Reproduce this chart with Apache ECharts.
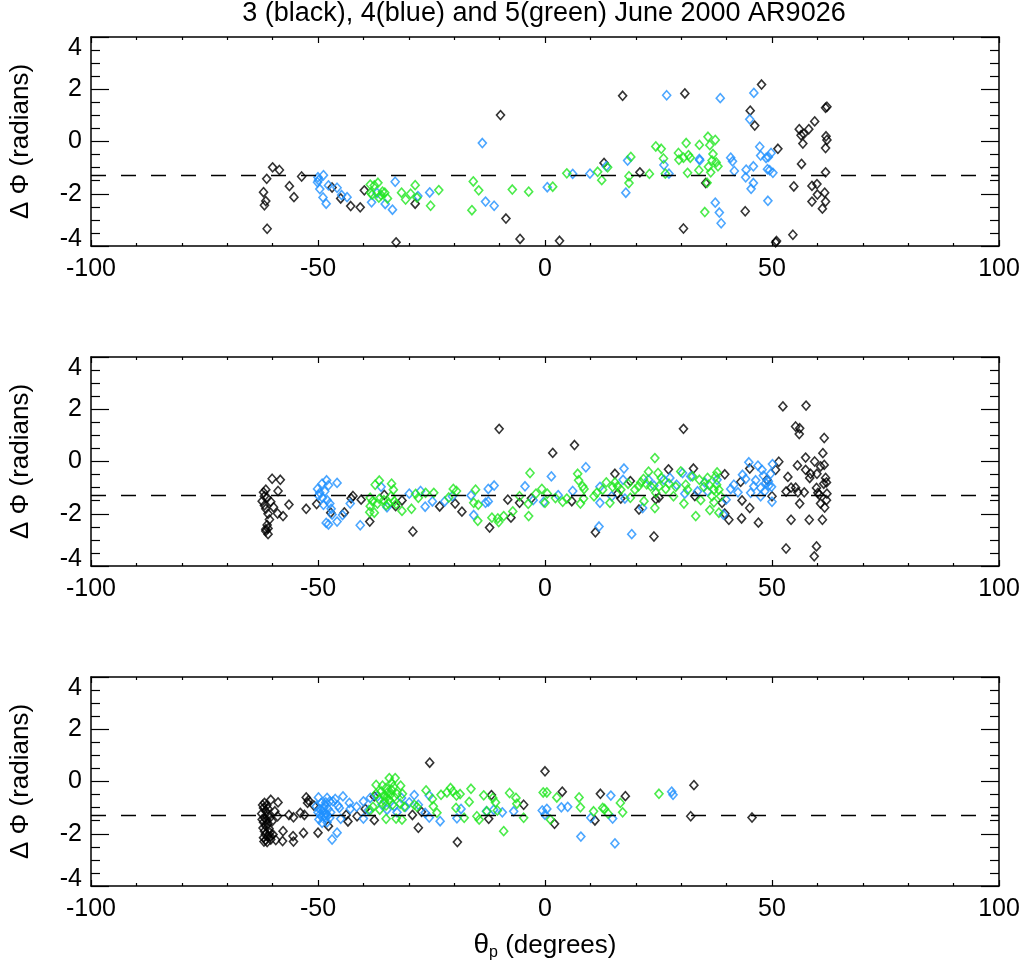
<!DOCTYPE html>
<html>
<head>
<meta charset="utf-8">
<title>AR9026 phase differences</title>
<script src="https://cdn.jsdelivr.net/npm/echarts@6/dist/echarts.min.js"></script>
<style>
  html, body { margin: 0; padding: 0; background: #ffffff; }
  #chart { width: 1032px; height: 974px; }
</style>
</head>
<body>
<div id="chart"></div>
<script>
// ---- text ----
const titleText = '3 (black), 4(blue) and 5(green) June 2000 AR9026';
const yAxisTitle = 'Δ Φ (radians)';
const xAxisTitle = '{th|θ}{sub|p}{rest| (degrees)}';

// ---- axes ----
const xRange = [-100, 100];
const xStep = 50;
const yRange = [-4, 4];
const yStep = 2;
const refLevel = -1.3;   // dashed reference level

// ---- panel 1 : [theta_p, delta phi] ----
const p1Black = [
  [-61.3,-1.43],[-60.0,-0.99],[-58.5,-1.09],[-62.0,-1.94],[-61.5,-2.28],[-61.8,-2.44],[-61.2,-3.34],
  [-56.3,-1.71],[-55.3,-2.13],[-53.6,-1.34],[-46.9,-1.76],[-45.0,-2.18],[-42.8,-2.47],[-40.7,-2.52],
  [-39.8,-1.87],[-28.6,-2.38],[-32.8,-3.86],[-9.8,1.01],[-8.6,-2.95],[-5.5,-3.73],[3.2,-3.80],
  [17.1,1.75],[13.0,-0.82],[20.9,-1.18],[30.8,1.84],[30.5,-3.33],[35.4,-1.59],[44.1,-2.67],
  [45.2,1.18],[46.2,0.61],[47.7,2.18],[51.3,-0.28],[51.0,-3.81],[50.8,-3.86],[54.6,-3.57],
  [54.8,-1.72],[56.5,-0.86],[56.0,0.47],[56.4,0.24],[57.0,0.29],[56.8,-0.08],[58.1,0.47],
  [59.4,0.77],[58.8,-2.30],[58.8,-1.70],[59.9,-1.63],[60.0,-2.03],[61.1,-2.57],[61.6,-1.96],
  [61.8,-2.30],[61.8,-0.25],[61.9,0.20],[62.1,0.06],[61.8,1.29],[62.1,1.33],[61.8,-1.18]
];
const p1Blue = [
  [-48.8,-1.29],[-50.0,-1.37],[-49.9,-1.48],[-50.1,-1.56],[-49.6,-1.82],[-48.9,-2.14],[-48.2,-2.38],
  [-47.7,-1.68],[-45.8,-1.77],[-44.8,-2.05],[-43.6,-2.13],[-38.2,-2.33],[-37.0,-1.97],[-35.2,-2.39],
  [-33.6,-2.61],[-33.0,-1.54],[-28.0,-2.09],[-25.4,-1.95],[-13.8,-0.06],[-13.1,-2.30],[-11.2,-2.46],
  [0.5,-1.75],[6.1,-1.24],[9.9,-1.23],[13.5,-0.95],[18.2,-0.73],[17.8,-1.96],[26.8,1.77],
  [26.2,-0.90],[27.3,-1.23],[34.0,-0.67],[34.1,-0.72],[37.5,-2.34],[38.4,-2.72],[38.8,-3.13],
  [38.6,1.66],[40.9,-0.62],[41.3,-0.76],[41.7,-1.13],[44.3,-1.08],[44.2,-1.37],[45.9,-0.95],
  [45.9,-1.59],[45.4,-1.81],[45.1,0.85],[46.0,1.86],[47.3,-0.20],[47.5,-0.54],[48.7,-0.63],
  [49.2,-0.59],[49.8,-0.44],[49.0,-1.06],[49.5,-1.10],[50.2,-1.20],[49.1,-2.27]
];
const p1Green = [
  [-38.5,-1.65],[-37.6,-1.68],[-36.8,-1.58],[-38.4,-1.96],[-38.1,-2.03],[-36.6,-2.15],[-36.1,-2.05],
  [-35.8,-1.92],[-35.3,-1.96],[-34.7,-2.18],[-31.6,-1.96],[-30.7,-2.22],[-29.6,-2.00],[-28.6,-1.67],
  [-28.2,-2.15],[-25.2,-2.46],[-23.4,-1.86],[-16.1,-2.63],[-15.8,-1.53],[-14.6,-1.87],[-7.2,-1.84],
  [-3.6,-1.92],[1.7,-1.73],[4.8,-1.22],[11.6,-1.16],[12.5,-1.48],[13.8,-0.99],[18.9,-0.59],
  [18.5,-1.33],[18.5,-1.59],[23.0,-1.24],[24.4,-0.19],[25.6,-0.28],[26.1,-0.65],[26.5,-1.23],
  [29.4,-0.44],[29.5,-0.70],[30.5,-0.62],[31.1,-0.06],[31.6,-0.52],[32.0,-0.62],[31.4,-1.20],
  [34.0,-0.13],[33.9,-1.10],[35.9,0.18],[36.3,-0.14],[37.5,0.06],[37.0,-0.48],[36.8,-0.73],
  [37.7,-0.80],[38.1,-0.95],[36.0,-0.97],[36.5,-1.18],[35.7,-1.58],[35.2,-2.70]
];

// ---- panel 2 ----
const p2Black = [
  [-60.1,-0.66],[-58.3,-0.70],[-58.8,-1.13],[-61.5,-1.08],[-62.0,-1.18],[-61.8,-1.33],[-61.2,-1.39],
  [-62.3,-1.52],[-60.4,-1.54],[-61.8,-1.68],[-59.8,-1.75],[-61.5,-1.81],[-61.0,-2.00],[-58.9,-1.99],
  [-57.7,-2.09],[-60.7,-2.22],[-61.2,-2.43],[-61.0,-2.56],[-61.5,-2.66],[-61.0,-2.78],[-61.5,-2.59],
  [-56.4,-1.65],[-52.6,-1.81],[-50.3,-1.63],[-47.2,-1.96],[-44.2,-1.95],[-42.3,-1.32],[-42.7,-1.41],
  [-40.5,-1.46],[-38.6,-2.30],[-35.4,-1.28],[-32.9,-1.71],[-31.5,-1.49],[-29.1,-2.68],[-23.2,-1.72],
  [-19.8,-1.61],[-18.3,-1.92],[-12.2,-2.53],[-10.1,1.25],[-8.2,-1.46],[-7.5,-2.15],[-5.6,-1.58],
  [-3.0,-1.41],[1.7,0.33],[6.5,0.63],[5.9,-1.52],[11.1,-2.71],[15.4,-0.47],[16.0,-1.23],
  [16.7,-1.42],[18.8,-0.75],[20.7,-1.84],[24.4,-1.44],[24.0,-2.87],[25.1,-1.38],[27.2,-0.30],
  [30.5,1.25],[32.7,-0.27],[33.0,-1.32],[39.6,-0.49],[39.0,-1.58],[39.6,-1.99],[40.5,-2.23],
  [43.3,-2.18],[43.1,-0.78],[43.4,-1.49],[45.1,-0.27],[45.1,-1.78],[47.0,-2.34],[48.9,-0.70],
  [50.0,-1.33],[50.8,-0.32],[51.5,-0.01],[52.4,2.11],[53.1,-3.33],[53.5,-0.59],[53.1,-1.15],
  [54.2,-2.23],[54.2,-1.00],[55.2,-1.00],[55.7,-1.18],[55.2,1.34],[56.1,1.27],[56.0,1.05],
  [55.6,-0.15],[56.1,-1.61],[57.1,-1.18],[57.5,2.14],[57.4,0.15],[57.4,-0.32],[58.2,-2.23],
  [58.3,-0.63],[58.5,-0.47],[59.3,-3.63],[59.8,-3.25],[59.4,0.00],[59.9,-0.47],[59.8,-1.01],
  [60.1,-1.20],[60.7,-0.19],[60.7,-1.61],[61.1,-2.23],[61.2,0.32],[61.5,0.90],[61.5,-0.13],
  [61.8,-0.63],[62.0,-0.80],[61.4,-0.85],[62.1,-1.23],[62.0,-1.48],[61.6,-1.76],[60.4,-1.27]
];
const p2Blue = [
  [-50.1,-1.05],[-49.1,-0.85],[-48.1,-0.72],[-49.6,-1.20],[-48.5,-1.14],[-47.7,-0.91],[-49.9,-1.30],
  [-49.0,-1.39],[-48.0,-1.48],[-47.4,-1.61],[-48.8,-1.66],[-47.1,-1.81],[-46.9,-2.03],[-48.2,-2.35],
  [-47.7,-2.41],[-45.8,-0.82],[-45.8,-2.30],[-44.6,-2.05],[-42.9,-1.61],[-40.7,-2.44],[-36.1,-0.97],
  [-34.8,-1.75],[-29.9,-1.23],[-27.4,-1.13],[-26.4,-1.73],[-24.8,-1.53],[-22.1,-1.53],[-20.4,-1.33],
  [-16.3,-1.30],[-15.7,-2.05],[-13.1,-1.58],[-12.5,-1.53],[-12.5,-1.05],[-11.2,-0.92],[-4.4,-0.95],
  [-2.6,-1.48],[-0.3,-1.55],[1.4,-0.57],[2.9,-1.29],[6.1,-1.13],[9.0,-0.22],[12.1,-1.58],
  [11.9,-2.49],[12.1,-0.97],[14.7,-1.33],[17.4,-0.27],[17.2,-0.70],[17.6,-1.42],[19.1,-2.78],
  [21.5,-1.78],[22.8,-0.70],[24.0,-0.92],[26.2,-0.70],[27.5,-0.63],[29.0,-0.89],[30.3,-0.44],
  [30.8,-1.23],[32.1,-0.57],[33.6,-1.14],[35.2,-0.80],[35.8,-1.14],[37.9,-0.70],[39.3,-2.03],
  [39.9,-1.46],[40.9,-1.05],[41.6,-0.89],[42.5,-1.18],[43.5,-0.51],[44.2,-0.67],[44.9,-0.03],
  [45.3,-1.20],[46.0,-0.95],[46.4,-0.72],[46.9,-0.16],[47.5,-1.01],[47.8,-0.32],[47.5,-1.33],
  [48.1,-0.54],[48.6,-0.82],[49.3,-0.92],[49.7,-0.47],[49.9,-0.97],[50.1,-0.10],[50.0,-1.54],
  [49.2,-0.76],[48.4,-1.14]
];
const p2Green = [
  [-36.5,-0.73],[-37.4,-0.89],[-38.5,-1.39],[-38.0,-1.52],[-38.5,-1.71],[-38.6,-1.94],[-37.6,-1.96],
  [-36.9,-1.61],[-36.5,-1.43],[-35.5,-1.48],[-35.0,-1.68],[-34.5,-1.61],[-33.9,-1.33],[-33.8,-0.85],
  [-33.4,-1.08],[-33.2,-1.52],[-32.8,-1.63],[-31.5,-1.89],[-29.4,-1.81],[-28.5,-1.24],[-27.9,-1.39],
  [-26.3,-1.20],[-24.5,-1.20],[-21.2,-1.38],[-20.2,-1.05],[-19.5,-1.13],[-15.3,-1.08],[-15.7,-1.58],
  [-14.7,-1.66],[-14.8,-2.27],[-11.7,-2.15],[-10.2,-2.32],[-10.4,-2.18],[-9.1,-2.09],[-7.1,-1.91],
  [-5.6,-1.33],[-3.7,-1.62],[-3.6,-2.09],[-3.3,-0.44],[-2.0,-1.23],[-0.7,-1.05],[0.5,-1.23],
  [2.3,-1.40],[0.0,-1.58],[3.9,-1.54],[4.8,-1.42],[7.4,-0.72],[7.2,-0.47],[8.3,-0.95],
  [8.6,-1.05],[7.8,-1.61],[8.5,-1.42],[10.8,-1.33],[11.4,-1.20],[12.7,-1.08],[13.5,-0.80],
  [14.3,-1.58],[14.9,-0.97],[15.4,-0.80],[16.0,-0.95],[16.7,-1.08],[18.3,-0.85],[18.8,-1.39],
  [19.8,-1.08],[20.6,-0.95],[21.1,-0.80],[21.7,-0.67],[21.8,-1.52],[22.4,-0.87],[22.8,-0.39],
  [23.3,-0.95],[24.2,0.13],[24.2,-1.78],[24.4,-1.20],[24.9,-0.44],[25.1,-0.95],[25.6,-0.63],
  [26.6,-1.05],[27.3,-0.85],[28.3,-1.33],[28.8,-0.97],[29.9,-0.38],[30.6,-1.61],[31.0,-0.89],
  [31.4,-1.08],[32.5,-0.57],[33.2,-2.09],[34.0,-0.70],[34.3,-1.48],[35.0,-0.97],[35.8,-0.63],
  [36.3,-1.86],[36.8,-1.33],[37.2,-1.56],[37.6,-0.57],[37.9,-0.42],[38.3,-1.96],[38.3,-1.08],
  [38.7,-1.33],[37.8,-0.89],[37.2,-1.08],[36.1,-0.89]
];

// ---- panel 3 ----
const p3Black = [
  [-61.8,-0.82],[-61.3,-0.92],[-62.0,-1.01],[-61.5,-1.14],[-62.4,-1.23],[-61.0,-1.27],[-61.8,-1.39],
  [-60.6,-1.39],[-62.0,-1.56],[-61.0,-1.61],[-60.1,-1.52],[-61.5,-1.71],[-61.8,-1.90],[-60.6,-1.96],
  [-59.9,-2.03],[-61.0,-2.09],[-61.5,-2.24],[-61.2,-2.32],[-60.4,-2.22],[-59.3,-2.24],[-62.2,-0.90],
  [-61.0,-1.05],[-62.3,-1.45],[-61.3,-1.48],[-62.1,-1.78],[-60.8,-1.80],[-62.0,-2.15],[-61.6,-2.02],
  [-60.5,-2.10],[-61.9,-2.30],[-60.4,-0.70],[-58.8,-0.80],[-58.9,-1.33],[-59.5,-1.14],[-57.7,-1.90],
  [-57.8,-2.28],[-56.4,-1.28],[-55.4,-1.37],[-55.5,-2.09],[-55.4,-2.30],[-53.9,-1.20],[-53.0,-1.28],
  [-53.2,-1.97],[-52.6,-0.61],[-52.1,-0.72],[-52.3,-0.82],[-50.9,-0.92],[-50.0,-1.96],[-47.7,-1.71],
  [-43.8,-1.28],[-43.4,-1.53],[-41.4,-1.33],[-39.6,-1.05],[-37.6,-1.48],[-37.6,-0.57],[-29.2,-1.28],
  [-27.9,-1.77],[-27.2,-1.16],[-25.4,0.72],[-19.3,-2.32],[-12.4,-1.43],[-11.8,-0.52],[-4.7,-0.89],
  [0.0,0.39],[2.1,-1.62],[3.8,-0.39],[11.0,-1.49],[12.2,-0.47],[17.7,-0.56],[32.8,-0.14],
  [32.1,-1.33],[45.6,-1.38]
];
const p3Blue = [
  [-49.9,-0.61],[-49.3,-0.82],[-50.4,-0.95],[-48.0,-0.63],[-47.4,-0.76],[-48.5,-0.92],[-49.6,-1.05],
  [-47.8,-1.05],[-48.9,-1.14],[-50.0,-1.18],[-48.2,-1.23],[-47.2,-1.18],[-49.3,-1.33],[-48.4,-1.39],
  [-47.4,-1.39],[-49.1,-1.58],[-48.0,-1.56],[-48.7,-1.00],[-49.5,-1.25],[-48.6,-1.30],[-49.8,-1.45],
  [-48.3,-0.80],[-47.9,-1.30],[-46.7,-0.76],[-46.2,-0.67],[-45.6,-0.92],[-45.3,-1.01],[-44.5,-0.57],
  [-43.1,-0.82],[-42.9,-1.05],[-45.0,-1.43],[-45.8,-1.96],[-46.9,-2.22],[-41.5,-0.97],[-40.0,-0.76],
  [-40.0,-1.42],[-38.9,-1.10],[-38.5,-0.63],[-36.9,-0.57],[-35.9,-0.89],[-34.8,-1.08],[-33.2,-0.95],
  [-32.6,-1.18],[-31.6,-0.63],[-30.7,-0.97],[-29.9,-0.80],[-28.8,-0.52],[-27.9,-0.89],[-26.4,-1.20],
  [-25.5,-0.54],[-25.5,-1.38],[-23.1,-1.52],[-19.4,-1.41],[-18.5,-1.05],[-12.9,-1.14],[-11.3,-1.08],
  [-9.4,-1.18],[-6.9,-1.14],[-0.6,-1.11],[0.4,-1.05],[0.0,-1.27],[3.6,-0.99],[5.0,-0.97],
  [7.9,-2.11],[10.1,-1.39],[14.5,-0.54],[14.9,-1.42],[15.4,-2.37],[27.9,-0.39],[28.2,-0.51]
];
const p3Green = [
  [-37.2,-0.13],[-35.8,-0.16],[-34.3,0.13],[-33.0,0.13],[-31.8,-0.16],[-33.8,-0.06],[-35.0,-0.25],
  [-36.1,-0.38],[-37.2,-0.47],[-35.5,-0.54],[-34.7,-0.42],[-33.8,-0.32],[-33.2,-0.59],[-36.5,-0.70],
  [-35.3,-0.76],[-34.3,-0.72],[-35.0,-0.92],[-33.6,-0.89],[-32.6,-0.47],[-31.4,-0.47],[-31.9,-0.85],
  [-34.0,-0.50],[-34.9,-0.60],[-33.4,-0.20],[-37.9,-0.97],[-38.5,-1.10],[-36.4,-1.08],[-35.0,-1.43],
  [-32.8,-1.42],[-31.5,-1.46],[-31.0,-0.97],[-28.8,-0.89],[-28.2,-0.97],[-26.2,-0.34],[-24.8,-0.67],
  [-24.6,-0.95],[-23.8,-1.20],[-22.9,-0.51],[-21.6,-0.42],[-20.8,-0.25],[-20.3,-0.38],[-19.5,-0.54],
  [-18.7,-0.48],[-19.6,-1.01],[-17.8,-1.39],[-16.7,-0.78],[-16.3,-0.28],[-15.0,-1.33],[-14.5,-1.46],
  [-13.5,-0.53],[-12.8,-1.14],[-11.5,-0.63],[-10.9,-0.80],[-10.5,-1.11],[-9.1,-1.90],[-7.8,-0.44],
  [-6.4,-0.63],[-6.2,-0.85],[-4.7,-1.39],[-0.4,-0.42],[0.4,-0.42],[1.2,-1.46],[2.6,-0.61],
  [7.5,-0.61],[7.8,-0.99],[10.7,-1.14],[12.7,-1.01],[13.1,-1.05],[13.9,-1.23],[16.6,-0.82],
  [17.1,-1.18],[25.1,-0.47]
];

const panels = [
  { black: p1Black, blue: p1Blue, green: p1Green },
  { black: p2Black, blue: p2Blue, green: p2Green },
  { black: p3Black, blue: p3Blue, green: p3Green }
];
const dayColors = { black: '#000000', blue: '#1e90ff', green: '#1ee61e' };

// ---- layout ----
const FONT = "'Liberation Sans', Arial, Helvetica, sans-serif";
const gridTops = [37, 357, 677];
const gridLeft = 89, gridWidth = 910, gridHeight = 209;

const chart = echarts.init(document.getElementById('chart'), null, { renderer: 'canvas' });

const grids = [], xAxes = [], yAxes = [], series = [];
const lineBlack = { color: '#000', width: 1.5 };

panels.forEach((panel, i) => {
  grids.push({ left: gridLeft, top: gridTops[i], width: gridWidth, height: gridHeight, containLabel: false });

  ['bottom', 'top'].forEach(pos => {
    const ax = {
      type: 'value', gridIndex: i, position: pos,
      min: xRange[0], max: xRange[1], interval: xStep,
      axisLine: { show: true, onZero: false, lineStyle: lineBlack },
      axisTick: { show: true, inside: true, length: 6, lineStyle: { color: '#000', width: 1.2 } },
      minorTick: { show: true, splitNumber: 5, length: 3, lineStyle: { color: '#000', width: 1.2 } },
      splitLine: { show: false },
      axisLabel: { show: pos === 'bottom', color: '#000', fontSize: 25, fontFamily: FONT, margin: 11 }
    };
    if (pos === 'bottom' && i === panels.length - 1) {
      ax.name = xAxisTitle;
      ax.nameLocation = 'middle';
      ax.nameGap = 44;
      ax.nameTextStyle = {
        color: '#000', fontFamily: FONT, fontSize: 26,
        rich: {
          th: { fontFamily: FONT, fontSize: 28, color: '#000' },
          sub: { fontFamily: FONT, fontSize: 16, color: '#000', padding: [15, 0, 0, 0] },
          rest: { fontFamily: FONT, fontSize: 26, color: '#000' }
        }
      };
    }
    xAxes.push(ax);
  });

  ['left', 'right'].forEach(pos => {
    const ax = {
      type: 'value', gridIndex: i, position: pos,
      min: yRange[0], max: yRange[1], interval: yStep,
      axisLine: { show: true, onZero: false, lineStyle: lineBlack },
      axisTick: { show: true, inside: true, length: 18, lineStyle: { color: '#000', width: 1.2 } },
      minorTick: { show: true, splitNumber: 4, length: 9, lineStyle: { color: '#000', width: 1.2 } },
      splitLine: { show: false },
      axisLabel: {
        show: pos === 'left', color: '#000', fontSize: 25, fontFamily: FONT, margin: 9,
        formatter: v => v === yRange[1] ? '{top|' + v + '}' : (v === yRange[0] ? '{bot|' + v + '}' : String(v)),
        rich: {
          top: { fontSize: 25, fontFamily: FONT, color: '#000', padding: [22, 0, 0, 0] },
          bot: { fontSize: 25, fontFamily: FONT, color: '#000', padding: [0, 0, 14, 0] }
        }
      }
    };
    if (pos === 'left') {
      ax.name = yAxisTitle;
      ax.nameLocation = 'middle';
      ax.nameRotate = 90;
      ax.nameGap = 57;
      ax.nameTextStyle = { color: '#000', fontFamily: FONT, fontSize: 26 };
    }
    yAxes.push(ax);
  });

  ['black', 'blue', 'green'].forEach(day => {
    series.push({
      type: 'scatter', name: day,
      xAxisIndex: 2 * i, yAxisIndex: 2 * i,
      data: panel[day],
      symbol: 'diamond', symbolSize: [8, 9],
      itemStyle: { color: 'rgba(255,255,255,0)', borderColor: dayColors[day], borderWidth: 1.6 },
      emphasis: { disabled: true },
      z: 2
    });
  });

  series.push({
    type: 'line', name: 'reference',
    xAxisIndex: 2 * i, yAxisIndex: 2 * i,
    data: [[xRange[0], refLevel], [xRange[1], refLevel]],
    symbol: 'none',
    lineStyle: { color: '#000', width: 1.5, type: [15, 15] },
    z: 3, silent: true
  });
});

chart.setOption({
  animation: false,
  backgroundColor: '#ffffff',
  textStyle: { fontFamily: FONT },
  grid: grids,
  xAxis: xAxes,
  yAxis: yAxes,
  series: series,
  graphic: [{
    type: 'text', x: 544, y: 14,
    style: {
      text: titleText, fill: '#000', align: 'center', verticalAlign: 'middle',
      font: '27px ' + FONT
    }
  }]
});
</script>
</body>
</html>
